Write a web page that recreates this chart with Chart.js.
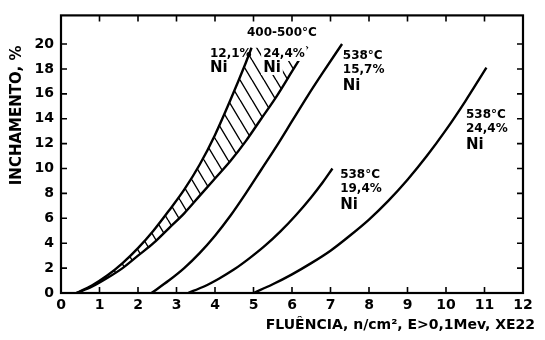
<!DOCTYPE html>
<html>
<head>
<meta charset="utf-8">
<script src="https://cdn.jsdelivr.net/npm/chart.js@4.4.1/dist/chart.umd.min.js"></script>
<style>html,body{margin:0;padding:0;background:#fff}</style>
</head>
<body>
<canvas id="c" width="545" height="340"></canvas>
<script>
// 400-500°C, 12,1% Ni (borda esquerda da faixa hachurada)
const ni121X = [0.4, 0.8, 1.2, 1.6, 2.0, 2.4, 2.8, 3.2, 3.6, 4.0, 4.4, 4.8, 4.95];
const ni121Y = [0, 0.6, 1.4, 2.4, 3.6, 5.0, 6.6, 8.3, 10.3, 12.7, 15.5, 18.5, 19.7];
// 400-500°C, 24,4% Ni (borda direita da faixa)
const ni244X = [0.4, 0.8, 1.2, 1.6, 2.0, 2.4, 2.8, 3.2, 3.6, 4.0, 4.4, 4.8, 5.2, 5.6, 6.0, 6.4];
const ni244Y = [0, 0.5, 1.2, 2.0, 3.0, 4.0, 5.2, 6.4, 7.8, 9.2, 10.6, 12.2, 14.0, 15.8, 17.8, 19.8];
// 538°C, 15,7% Ni
const c157X = [2.35, 2.8, 3.2, 3.6, 4.0, 4.4, 4.8, 5.2, 5.6, 6.0, 6.4, 6.8, 7.3];
const c157Y = [0, 1.0, 2.0, 3.2, 4.6, 6.2, 8.0, 9.9, 11.8, 13.8, 15.8, 17.7, 20.0];
// 538°C, 19,4% Ni
const c194X = [3.3, 3.7, 4.1, 4.5, 4.9, 5.3, 5.7, 6.1, 6.5, 6.8, 7.05];
const c194Y = [0, 0.5, 1.15, 1.9, 2.8, 3.8, 4.95, 6.25, 7.7, 8.9, 10.0];
// 538°C, 24,4% Ni
const c244X = [5.0, 5.5, 6.0, 6.5, 7.0, 7.5, 8.0, 8.5, 9.0, 9.5, 10.0, 10.5, 11.05];
const c244Y = [0, 0.7, 1.5, 2.4, 3.4, 4.6, 5.9, 7.4, 9.1, 11.0, 13.1, 15.4, 18.1];

const xTicks = [0, 1, 2, 3, 4, 5, 6, 7, 8, 9, 10, 11, 12];
const yTicks = [0, 2, 4, 6, 8, 10, 12, 14, 16, 18, 20];

// rótulos das curvas (posição em unidades do gráfico)
const rotulos = [
  { x: 4.83, y: 20.9, linhas: ['400-500°C'] },
  { x: 3.87, y: 19.2, linhas: ['12,1%', 'Ni'] },
  { x: 5.25, y: 19.2, linhas: ['24,4%', 'Ni'], fundo: true },
  { x: 7.32, y: 19.05, linhas: ['538°C', '15,7%', 'Ni'] },
  { x: 7.25, y: 9.5, linhas: ['538°C', '19,4%', 'Ni'] },
  { x: 10.52, y: 14.3, linhas: ['538°C', '24,4%', 'Ni'] }
];

const pts = (xs, ys) => xs.map((x, i) => ({ x, y: ys[i] }));
const FONTE = "'DejaVu Sans', sans-serif";

function hachura() {
  const c = document.createElement('canvas');
  c.width = 12; c.height = 20;
  const g = c.getContext('2d');
  g.strokeStyle = '#000'; g.lineWidth = 1.4;
  g.beginPath();
  for (const dx of [-12, 0, 12]) { g.moveTo(dx, 0); g.lineTo(dx + 12, 20); }
  g.stroke();
  return g.createPattern(c, 'repeat');
}

// faixa: borda 12,1% + fechamento no topo da curva 24,4%
const faixa = pts(ni121X, ni121Y).concat([{ x: ni244X[ni244X.length - 1], y: ni121Y[ni121Y.length - 1] }]);

const linha = (data) => ({
  data, borderColor: '#000', borderWidth: 2.4, pointRadius: 0,
  cubicInterpolationMode: 'monotone', fill: false
});

const moldura = {
  id: 'moldura',
  afterDraw(chart) {
    const { ctx, chartArea: a, scales: { x, y } } = chart;
    ctx.save();
    ctx.strokeStyle = '#000';
    ctx.lineWidth = 2.2;
    ctx.strokeRect(a.left, a.top, a.right - a.left, a.bottom - a.top);
    ctx.lineWidth = 1.6;
    ctx.beginPath();
    xTicks.forEach(v => {
      const p = x.getPixelForValue(v);
      ctx.moveTo(p, a.bottom); ctx.lineTo(p, a.bottom - 6);
      ctx.moveTo(p, a.top); ctx.lineTo(p, a.top + 6);
    });
    yTicks.forEach(v => {
      const p = y.getPixelForValue(v);
      ctx.moveTo(a.left, p); ctx.lineTo(a.left + 6, p);
      ctx.moveTo(a.right, p); ctx.lineTo(a.right - 6, p);
    });
    ctx.stroke();

    // títulos dos eixos
    ctx.fillStyle = '#000';
    ctx.font = "bold 14px " + FONTE;
    ctx.textAlign = 'right'; ctx.textBaseline = 'middle';
    ctx.fillText('FLUÊNCIA, n/cm², E>0,1Mev, XE22', a.right + 12, a.bottom + 32);
    ctx.save();
    ctx.translate(a.left - 44, a.top + 100);
    ctx.rotate(-Math.PI / 2);
    ctx.font = "bold 15px " + FONTE;
    ctx.textAlign = 'center';
    ctx.fillText('INCHAMENTO, %', 0, 0);
    ctx.restore();

    // rótulos das curvas
    const offs = [0, 14, 30];
    rotulos.forEach(r => {
      const px = x.getPixelForValue(r.x), py = y.getPixelForValue(r.y);
      r.linhas.forEach((t, i) => {
        ctx.font = (t === 'Ni' ? 'bold 15px ' : 'bold 12px ') + FONTE;
        ctx.textAlign = 'left'; ctx.textBaseline = 'middle';
        const yy = py + offs[i];
        if (r.fundo) {
          const w = ctx.measureText(t).width;
          ctx.fillStyle = '#fff';
          ctx.fillRect(px - 2, yy - 7, w + 4, 14);
        }
        ctx.fillStyle = '#000';
        ctx.fillText(t, px, yy);
      });
    });
    ctx.restore();
  }
};

new Chart(document.getElementById('c'), {
  type: 'line',
  data: {
    datasets: [
      { data: faixa, borderWidth: 0, pointRadius: 0, cubicInterpolationMode: 'monotone',
        backgroundColor: hachura(), fill: 2 },
      linha(pts(ni121X, ni121Y)),
      linha(pts(ni244X, ni244Y)),
      linha(pts(c157X, c157Y)),
      linha(pts(c194X, c194Y)),
      linha(pts(c244X, c244Y))
    ]
  },
  options: {
    responsive: false,
    animation: false,
    devicePixelRatio: 1,
    layout: { padding: { left: 0, top: 11, right: 22, bottom: 0 } },
    plugins: { legend: { display: false }, tooltip: { enabled: false } },
    scales: {
      x: {
        type: 'linear', min: 0, max: 12,
        grid: { display: false, drawTicks: false },
        border: { display: false },
        afterBuildTicks: s => { s.ticks = xTicks.map(v => ({ value: v })); },
        afterFit: s => { s.height = 47; },
        ticks: { color: '#000', padding: 4, font: { family: FONTE, weight: 'bold', size: 14 } }
      },
      y: {
        type: 'linear', min: 0, max: 22.3,
        grid: { display: false, drawTicks: false },
        border: { display: false },
        afterBuildTicks: s => { s.ticks = yTicks.map(v => ({ value: v })); },
        afterFit: s => { s.width = 61; },
        ticks: { color: '#000', padding: 7, font: { family: FONTE, weight: 'bold', size: 14 } }
      }
    }
  },
  plugins: [moldura]
});
</script>
</body>
</html>
